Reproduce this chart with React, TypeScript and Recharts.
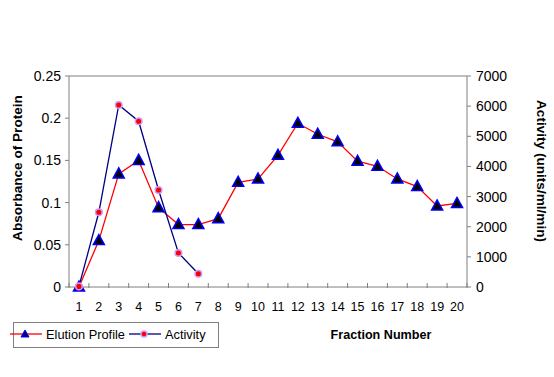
import React from 'react';
import { ComposedChart, Line, XAxis, YAxis, ReferenceLine, Legend, Label } from 'recharts';

const fractions = [1, 2, 3, 4, 5, 6, 7, 8, 9, 10, 11, 12, 13, 14, 15, 16, 17, 18, 19, 20];
const elution = [0, 0.055, 0.134, 0.15, 0.094, 0.074, 0.074, 0.081, 0.124, 0.128, 0.156, 0.194, 0.181, 0.172, 0.149, 0.143, 0.128, 0.119, 0.096, 0.099];
const activity = [20, 2480, 6040, 5500, 3220, 1130, 440];
const leftTicks = [0, 0.05, 0.1, 0.15, 0.2, 0.25];
const rightTicks = [0, 1000, 2000, 3000, 4000, 5000, 6000, 7000];

const data = fractions.map((f, i) => ({
  f: String(f),
  elution: elution[i],
  activity: i < activity.length ? activity[i] : null,
}));

const W = 554;
const H = 377;
const LEFT_W = 69;
const RIGHT_W = 87;
const TOP = 76;
const XAXIS_H = 30;
const BOTTOM = 60;
const PLOT_W = W - LEFT_W - RIGHT_W;
const AXIS_Y = H - BOTTOM - XAXIS_H;
const BAND = PLOT_W / fractions.length;
const FONT = '"Liberation Sans", Arial, sans-serif';
const GRAY = '#808080';

const XTick = (props: any) => {
  const { x, y, payload, index } = props;
  const bx = x - BAND / 2;
  return (
    <g>
      <line x1={bx} x2={bx} y1={AXIS_Y - 4} y2={AXIS_Y + 1} stroke={GRAY} />
      {index === fractions.length - 1 ? (
        <line x1={x + BAND / 2} x2={x + BAND / 2} y1={AXIS_Y - 4} y2={AXIS_Y + 1} stroke={GRAY} />
      ) : null}
      <text x={x} y={y} dy="0.71em" textAnchor="middle" fontSize={12.5} fontFamily={FONT} fill="#000">
        {payload.value}
      </text>
    </g>
  );
};

const TriangleDot = (props: any) => {
  const { cx, cy, index, value } = props;
  if (cx == null || cy == null || value == null) return <g key={`t${index}`} />;
  const pts = `${cx},${cy - 6} ${cx - 5.5},${cy + 4} ${cx + 5.5},${cy + 4}`;
  return <polygon key={`t${index}`} points={pts} fill="#000" stroke="#0000ff" strokeWidth={1.5} />;
};

const CircleDot = (props: any) => {
  const { cx, cy, index, value } = props;
  if (cx == null || cy == null || value == null) return <g key={`c${index}`} />;
  return <circle key={`c${index}`} cx={cx} cy={cy} r={3.3} fill="#ff0000" stroke="#cc99ff" strokeWidth={1.5} />;
};

const LegendBox = () => (
  <div style={{ width: 206, height: 26, border: `1px solid ${GRAY}`, boxSizing: 'border-box', background: '#fff' }}>
    <svg width={206} height={26} style={{ position: 'absolute', left: 0, top: 0, overflow: 'visible' }}>
      <line x1={-3} x2={29} y1={12} y2={12} stroke="#ff0000" strokeWidth={1.3} />
      <polygon points="12,8 8,15 16,15" fill="#000080" stroke="#0000ff" />
      <text x={33} y={16.5} fontSize={12.8} fontFamily={FONT} fill="#000">Elution Profile</text>
      <line x1={116} x2={148} y1={12} y2={12} stroke="#000080" strokeWidth={1.3} />
      <circle cx={131} cy={12} r={3} fill="#ff0000" stroke="#cc99ff" strokeWidth={1.5} />
      <text x={152} y={16.5} fontSize={12.8} fontFamily={FONT} fill="#000">Activity</text>
    </svg>
  </div>
);

export default function App() {
  return (
    <div style={{ position: 'absolute', left: 0, top: 0, width: W, height: H, background: '#fff' }}>
      <ComposedChart width={W} height={H} data={data} margin={{ top: TOP, right: 0, left: 0, bottom: BOTTOM }}>
        <XAxis
          dataKey="f"
          scale="band"
          interval={0}
          height={XAXIS_H}
          tickLine={false}
          tickSize={5}
          tickMargin={10}
          axisLine={{ stroke: GRAY }}
          tick={<XTick />}
        >
          <Label
            content={() => (
              <text x={381} y={339} textAnchor="middle" fontSize={12.6} fontWeight="bold" fontFamily={FONT} fill="#000">
                Fraction Number
              </text>
            )}
          />
        </XAxis>
        <YAxis
          yAxisId="left"
          orientation="left"
          width={LEFT_W}
          domain={[0, 0.25]}
          ticks={leftTicks}
          tickSize={4}
          tickMargin={4}
          axisLine={{ stroke: GRAY }}
          tickLine={{ stroke: GRAY }}
          tick={{ fontSize: 14, fontFamily: FONT, fill: '#000' }}
        >
          <Label
            content={() => (
              <text x={22} y={168} transform="rotate(-90 22 168)" textAnchor="middle" fontSize={13.6} fontWeight="bold" fontFamily={FONT} fill="#000">
                Absorbance of Protein
              </text>
            )}
          />
        </YAxis>
        <YAxis
          yAxisId="right"
          orientation="right"
          width={RIGHT_W}
          domain={[0, 7000]}
          ticks={rightTicks}
          tickSize={4}
          tickMargin={5}
          axisLine={{ stroke: GRAY }}
          tickLine={{ stroke: GRAY }}
          tick={{ fontSize: 14, fontFamily: FONT, fill: '#000' }}
        >
          <Label
            content={() => (
              <text x={537} y={171} transform="rotate(90 537 171)" textAnchor="middle" fontSize={13.6} fontWeight="bold" fontFamily={FONT} fill="#000">
                Activity (units/ml/min)
              </text>
            )}
          />
        </YAxis>
        <ReferenceLine yAxisId="left" y={0.25} stroke={GRAY} />
        <Legend
          verticalAlign="middle"
          align="center"
          layout="horizontal"
          wrapperStyle={{ left: 13, top: 322, width: 206, height: 26 }}
          content={() => <LegendBox />}
        />
        <Line
          yAxisId="left"
          dataKey="elution"
          stroke="#ff0000"
          strokeWidth={1.3}
          dot={(p: any) => <TriangleDot {...p} />}
          activeDot={false}
          isAnimationActive={false}
        />
        <Line
          yAxisId="right"
          dataKey="activity"
          stroke="#000080"
          strokeWidth={1.3}
          dot={(p: any) => <CircleDot {...p} />}
          activeDot={false}
          isAnimationActive={false}
        />
      </ComposedChart>
    </div>
  );
}
